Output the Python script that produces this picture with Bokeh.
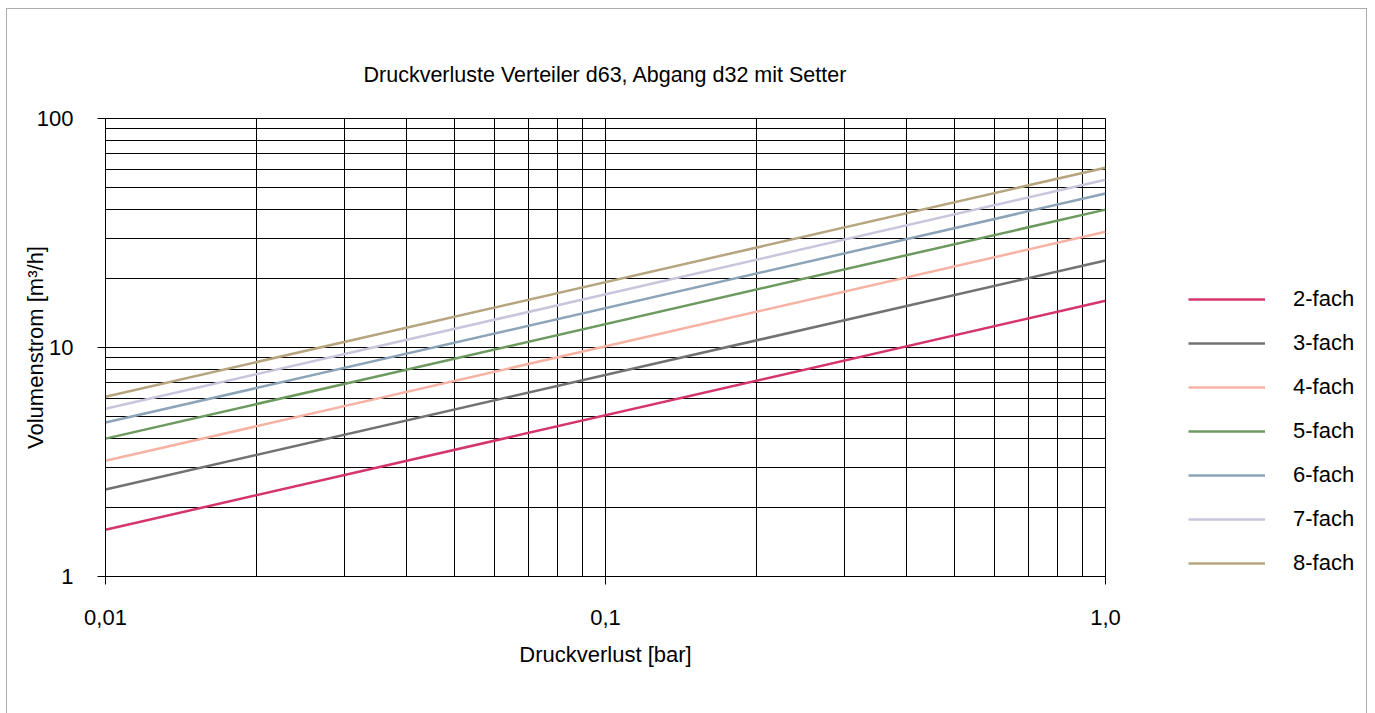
from bokeh.plotting import figure
from bokeh.layouts import row
from bokeh.models import FixedTicker, Legend, LegendItem, Range1d
from bokeh.embed import file_html
from bokeh.resources import INLINE

FONT = "Liberation Sans"

# Pressure loss [bar] at the two ends of each characteristic
druckverlust = [0.01, 1.0]

# Flow rate [m3/h] per manifold size at those pressure losses
serien = ["2-fach", "3-fach", "4-fach", "5-fach", "6-fach", "7-fach", "8-fach"]
flow_2fach = [1.6, 16.0]
flow_3fach = [2.4, 24.0]
flow_4fach = [3.2, 32.0]
flow_5fach = [4.0, 40.0]
flow_6fach = [4.7, 47.0]
flow_7fach = [5.4, 54.0]
flow_8fach = [6.1, 61.0]
farben = ["#d4356b", "#727272", "#f6b2a3", "#6c9a5f", "#8ca3b8", "#c9c5dc", "#b6a57f"]

# Axis ticks
x_major = [0.01, 0.1, 1.0]
x_minor = [0.02, 0.03, 0.04, 0.05, 0.06, 0.07, 0.08, 0.09,
           0.2, 0.3, 0.4, 0.5, 0.6, 0.7, 0.8, 0.9]
x_labels = ["0,01", "0,1", "1,0"]
y_major = [1, 10, 100]
y_minor = [2, 3, 4, 5, 6, 7, 8, 9, 20, 30, 40, 50, 60, 70, 80, 90]
y_labels = ["1", "10", "100"]

CHART_W = 1138
LEGEND_W = 221
HEIGHT = 704
BORDER_TOP = 109
BORDER_BOTTOM = 137

p = figure(
    width=CHART_W, height=HEIGHT,
    x_axis_type="log", y_axis_type="log",
    x_range=Range1d(0.01, 1.0), y_range=Range1d(1, 100),
    output_backend="svg", toolbar_location=None,
    min_border_left=98, min_border_right=40,
    min_border_top=BORDER_TOP, min_border_bottom=BORDER_BOTTOM,
    title="Druckverluste Verteiler d63, Abgang d32 mit Setter",
    background_fill_color="white", border_fill_color="white",
)

p.title.text_font = FONT
p.title.text_font_size = "21.5px"
p.title.text_font_style = "normal"
p.title.text_color = "black"
p.title.align = "center"
p.title.standoff = 63

p.outline_line_color = "black"
p.outline_line_width = 1

# Ticks and grid
p.xaxis.ticker = FixedTicker(ticks=x_major, minor_ticks=x_minor)
p.yaxis.ticker = FixedTicker(ticks=y_major, minor_ticks=y_minor)
p.xaxis.major_label_overrides = dict(zip(x_major, x_labels))
p.yaxis.major_label_overrides = dict(zip(y_major, y_labels))

for ax in (p.xaxis, p.yaxis):
    ax.axis_line_color = "black"
    ax.axis_line_width = 1
    ax.major_tick_line_color = "black"
    ax.major_tick_in = 0
    ax.major_tick_out = 8
    ax.minor_tick_in = 0
    ax.minor_tick_out = 0
    ax.major_label_text_font = FONT
    ax.major_label_text_font_size = "22px"
    ax.major_label_text_color = "black"
    ax.axis_label_text_font = FONT
    ax.axis_label_text_font_size = "22px"
    ax.axis_label_text_font_style = "normal"
    ax.axis_label_text_color = "black"

p.xaxis.axis_label = "Druckverlust [bar]"
p.yaxis.axis_label = "Volumenstrom [m³/h]"
p.xaxis.major_label_standoff = 25
p.xaxis.axis_label_standoff = 14
p.yaxis.major_label_standoff = 24
p.yaxis.axis_label_standoff = -14

for g in (p.xgrid, p.ygrid):
    g.grid_line_color = "black"
    g.grid_line_width = 1
    g.grid_line_alpha = 1
    g.minor_grid_line_color = "black"
    g.minor_grid_line_width = 1

# Characteristics
reihen = [flow_2fach, flow_3fach, flow_4fach, flow_5fach, flow_6fach, flow_7fach, flow_8fach]
for werte, farbe in zip(reihen, farben):
    p.line(druckverlust, werte, line_color=farbe, line_width=2.5)

# Legend panel to the right of the chart (same vertical borders as the chart);
# the series themselves lie outside its ranges, only the legend is seen
lp = figure(
    width=LEGEND_W, height=HEIGHT,
    x_range=Range1d(0, 1), y_range=Range1d(0, 1),
    output_backend="svg", toolbar_location=None,
    x_axis_location=None, y_axis_location=None,
    min_border_left=43, min_border_right=0,
    min_border_top=BORDER_TOP, min_border_bottom=BORDER_BOTTOM,
    outline_line_color=None,
    background_fill_color="white", border_fill_color="white",
)
lp.grid.visible = False

items = []
for name, werte, farbe in zip(serien, reihen, farben):
    r = lp.line(druckverlust, werte, line_color=farbe, line_width=2.5)
    items.append(LegendItem(label=name, renderers=[r]))

# legend entries stacked upwards from the bottom of the chart area
legend = Legend(
    items=items,
    location="bottom_left",
    orientation="vertical",
    glyph_width=77, glyph_height=20,
    label_standoff=28, label_height=20, spacing=18,
    padding=0, margin=0,
    border_line_alpha=0, background_fill_alpha=0,
    label_text_font=FONT, label_text_font_size="22px", label_text_color="black",
)
lp.add_layout(legend, "center")

layout = row(p, lp)
# thin grey frame around the whole chart
layout.styles = {"border": "1px solid #ababab", "border-bottom": "none",
                 "margin-left": "6px", "margin-top": "8px"}

open("out.html", "w").write(file_html(layout, INLINE))
